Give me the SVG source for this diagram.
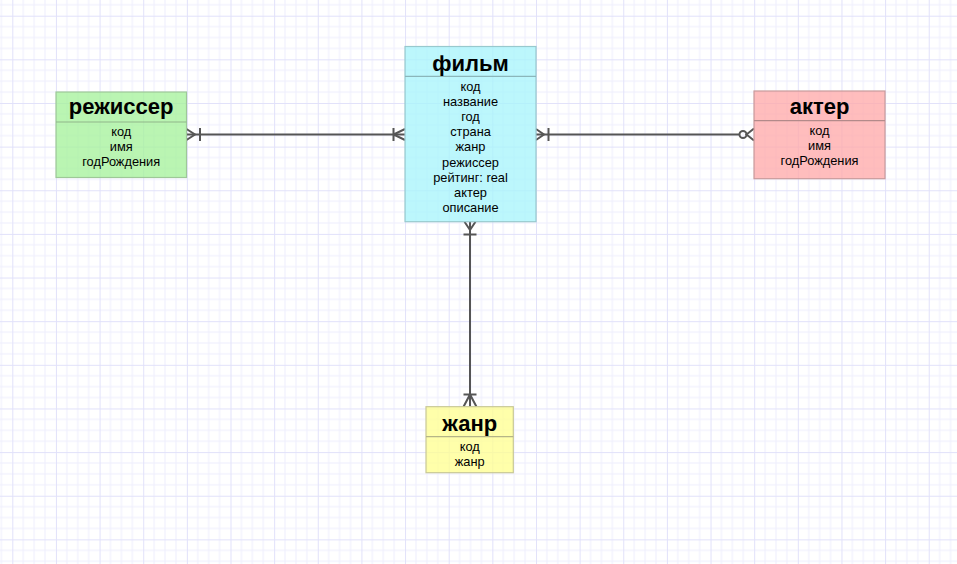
<svg xmlns="http://www.w3.org/2000/svg" width="957" height="564" viewBox="0 0 957 564">
<defs>
<pattern id="grid" patternUnits="userSpaceOnUse" x="12.3" y="15.7" width="43.64" height="43.64">
<path d="M10.91 0V43.64M21.82 0V43.64M32.73 0V43.64M0 10.91H43.64M0 21.82H43.64M0 32.73H43.64" stroke="#eeeefd" stroke-width="1" fill="none"/>
<path d="M0.5 0V43.64M0 0.5H43.64" stroke="#e1e1fa" stroke-width="1" fill="none"/>
</pattern>
</defs>
<style>
.title{font-family:"Liberation Sans",Arial,sans-serif;font-size:22px;font-weight:bold;fill:#000;text-anchor:middle}
.field{font-family:"Liberation Sans",Arial,sans-serif;font-size:12.8px;fill:#000;text-anchor:middle}
.box{stroke-width:1.2;fill-opacity:0.75}
.conn{stroke:#555;stroke-width:2;fill:none}
</style>
<rect width="957" height="564" fill="#ffffff"/>
<rect width="957" height="564" fill="url(#grid)"/>

<g id="connectors">
<path class="conn" d="M186.5 134.5H405"/>
<path class="conn" d="M186.5 129L195 134.5L186.5 140M200 128V141"/>
<path class="conn" d="M405 129L393.5 134.5L405 140M393.5 128V141"/>
<path class="conn" d="M536 134.5H739.5"/>
<path class="conn" d="M536 129L544 134.5L536 140M548.5 128V141"/>
<circle class="conn" cx="743" cy="134.5" r="3.5"/>
<path class="conn" d="M754 128.5L746.5 134.5L754 140.5"/>
<path class="conn" d="M470 221.7V406.7"/>
<path class="conn" d="M464.5 221.7L470 230L475.5 221.7M463.5 234.5H476.5"/>
<path class="conn" d="M463.5 406.7L470 394.5L476.5 406.7M463.5 394.5H476.5"/>
</g>

<g id="director">
<rect class="box" x="56" y="92" width="130.5" height="85.5" fill="#a3f298" stroke="#9ec898"/>
<path d="M56 122H186.5" stroke="#8fb58a" stroke-width="1.2"/>
<text class="title" x="121.2" y="113.5">режиссер</text>
<text class="field" x="121.2" y="136.3">код</text>
<text class="field" x="121.2" y="150.8">имя</text>
<text class="field" x="121.2" y="165.6">годРождения</text>
</g>

<g id="film">
<rect class="box" x="405" y="46.5" width="131" height="175.2" fill="#a6f4fb" stroke="#98c9ce"/>
<path d="M405 76.3H536" stroke="#8bb6ba" stroke-width="1.2"/>
<text class="title" x="470.5" y="71">фильм</text>
<text class="field" x="470.5" y="90.6">код</text>
<text class="field" x="470.5" y="105.8">название</text>
<text class="field" x="470.5" y="121">год</text>
<text class="field" x="470.5" y="136.2">страна</text>
<text class="field" x="470.5" y="151.4">жанр</text>
<text class="field" x="470.5" y="166.6">режиссер</text>
<text class="field" x="470.5" y="181.8">рейтинг: real</text>
<text class="field" x="470.5" y="197">актер</text>
<text class="field" x="470.5" y="212.2">описание</text>
</g>

<g id="actor">
<rect class="box" x="754" y="91" width="131" height="87.7" fill="#ffa7a7" stroke="#c89b9b"/>
<path d="M754 120.7H885" stroke="#b38a8a" stroke-width="1.2"/>
<text class="title" x="819.5" y="113.6">актер</text>
<text class="field" x="819.5" y="135">код</text>
<text class="field" x="819.5" y="149.8">имя</text>
<text class="field" x="819.5" y="165.1">годРождения</text>
</g>

<g id="genre">
<rect class="box" x="426" y="406.7" width="87.3" height="66" fill="#ffff8e" stroke="#c8c896"/>
<path d="M426 436.7H513.3" stroke="#b5b587" stroke-width="1.2"/>
<text class="title" x="469.7" y="431">жанр</text>
<text class="field" x="469.7" y="451.1">код</text>
<text class="field" x="469.7" y="465.5">жанр</text>
</g>
</svg>
